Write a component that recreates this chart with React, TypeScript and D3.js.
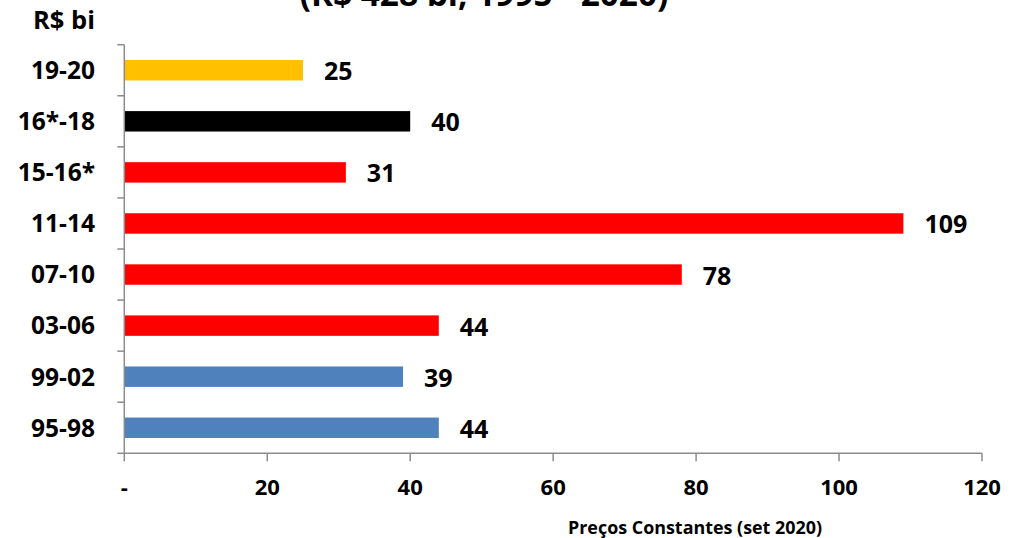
import React from "react";
import * as d3 from "d3";

const categories = ["19-20", "16*-18", "15-16*", "11-14", "07-10", "03-06", "99-02", "95-98"];
const values = [25, 40, 31, 109, 78, 44, 39, 44];
const colors = ["#FFC000", "#000000", "#FF0000", "#FF0000", "#FF0000", "#FF0000", "#4F81BD", "#4F81BD"];
const xTicks = [0, 20, 40, 60, 80, 100, 120];
const xTickLabels = ["-", "20", "40", "60", "80", "100", "120"];
const title = "(R$ 428 bi, 1995 - 2020)";
const unitLabel = "R$ bi";
const xAxisTitle = "Preços Constantes (set 2020)";

const W = 1016;
const H = 538;
const FONT = "'Open Sans', sans-serif";

export default function App() {
  const left = 124.3;
  const right = 982;
  const top = 44.7;
  const bottom = 453.3;
  const x = d3.scaleLinear().domain([0, 120]).range([left, right]);
  const y = d3.scaleBand<string>().domain(categories).range([top, bottom]).paddingInner(0.6).paddingOuter(0.3);
  const step = y.step();
  const axisColor = "#8C8C8C";
  return (
    <svg width={W} height={H} style={{ position: "absolute", left: 0, top: 0, background: "#fff" }} fontFamily={FONT}>
      <text x={484} y={6} textAnchor="middle" fontSize={33.4} fontWeight={700} fill="#000">{title}</text>
      <text x={95} y={29.3} textAnchor="end" fontSize={25.5} fontWeight={700} fill="#000">{unitLabel}</text>
      {categories.map((c, i) => (
        <rect key={c} x={x(0)} y={y(c)} width={x(values[i]) - x(0)} height={y.bandwidth()} fill={colors[i]} />
      ))}
      {/* y axis */}
      <line x1={left} x2={left} y1={top} y2={bottom} stroke={axisColor} strokeWidth={1.5} />
      {d3.range(categories.length + 1).map((i) => (
        <line key={"yt" + i} x1={left - 7} x2={left} y1={top + i * step} y2={top + i * step} stroke={axisColor} strokeWidth={1.5} />
      ))}
      {/* x axis */}
      <line x1={left} x2={right} y1={bottom} y2={bottom} stroke={axisColor} strokeWidth={1.5} />
      {xTicks.map((t, i) => (
        <g key={"xt" + t}>
          <line x1={x(t)} x2={x(t)} y1={bottom} y2={bottom + 8} stroke={axisColor} strokeWidth={1.5} />
          <text x={x(t)} y={495} textAnchor="middle" fontSize={22} fontWeight={700} fill="#000">{xTickLabels[i]}</text>
        </g>
      ))}
      {categories.map((c, i) => {
        const cy = (y(c) as number) + y.bandwidth() / 2;
        return (
          <g key={"l" + c}>
            <text x={95} y={cy} dy="0.36em" textAnchor="end" fontSize={24.5} fontWeight={700} fill="#000">{c}</text>
            <text x={x(values[i]) + 21} y={cy + 1} dy="0.36em" textAnchor="start" fontSize={25} fontWeight={700} fill="#000">{values[i]}</text>
          </g>
        );
      })}
      <text x={695} y={534} textAnchor="middle" fontSize={17.9} fontWeight={700} fill="#000">{xAxisTitle}</text>
    </svg>
  );
}
